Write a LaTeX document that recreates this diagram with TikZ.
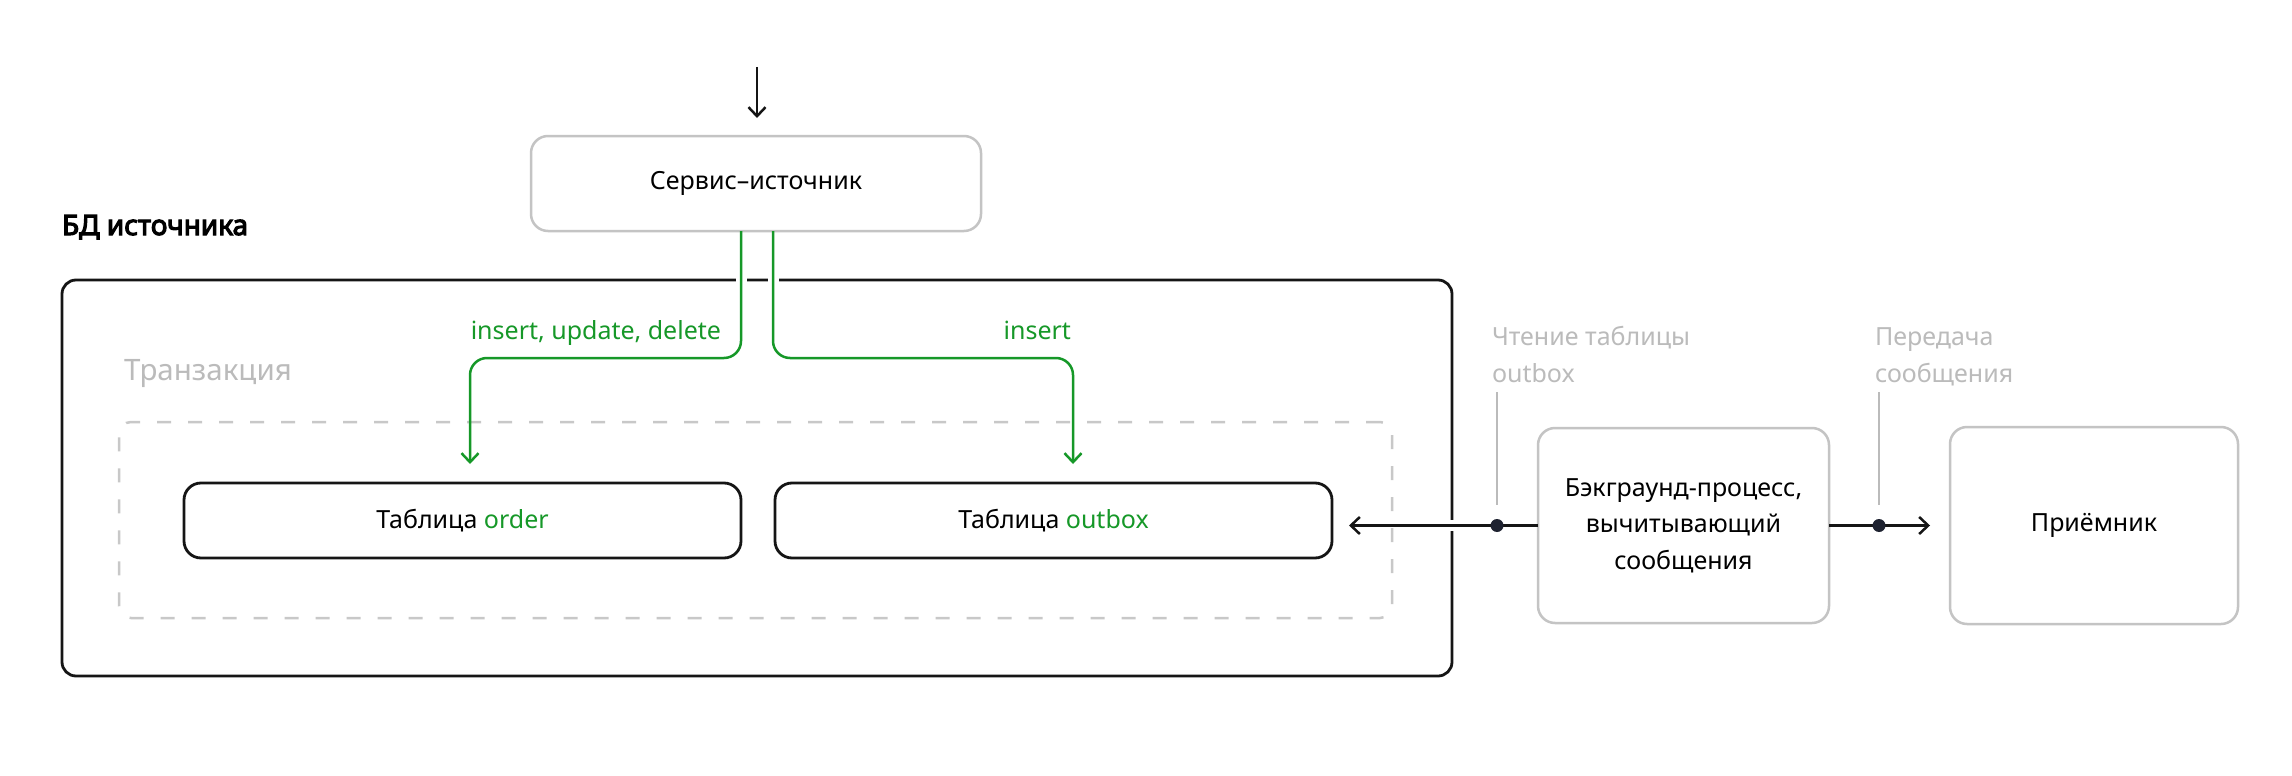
\documentclass[tikz,border=0pt]{standalone}
\usepackage{fontspec}
\setmainfont{Noto Sans}[AutoFakeBold=4]
\usetikzlibrary{arrows.meta,calc}
\definecolor{ink}{HTML}{151515}
\definecolor{boxgray}{HTML}{C4C4C4}
\definecolor{dashgray}{HTML}{C8C8C8}
\definecolor{labelgray}{HTML}{BBBBBB}
\definecolor{flowgreen}{RGB}{22,152,40}
\definecolor{dotblack}{HTML}{1E2230}
\newcommand\fsbody{\fontsize{25}{36.5}\selectfont}
\newcommand\fshead{\fontsize{28}{34}\selectfont\bfseries}
\newcommand\fstx{\fontsize{29.5}{36}\selectfont}
\tikzset{
  plain/.style={inner sep=0pt, outer sep=0pt},
  softbox/.style={plain, draw=boxgray, line width=2.5pt, rounded corners=17pt, fill=white, font=\fsbody, align=center, text=black},
  hardbox/.style={plain, draw=ink, line width=2.8pt, rounded corners=17pt, fill=white, font=\fsbody, text=black},
  frame/.style={plain, draw=ink, line width=2.8pt, rounded corners=14pt},
  txbox/.style={plain, draw=dashgray, line width=2.5pt, rounded corners=12pt, dash pattern=on 14pt off 17pt},
  flow/.style={draw=flowgreen, line width=2.5pt, rounded corners=17pt, -{Straight Barb[length=9pt,width=17pt]}},
  link/.style={draw=ink, line width=2.5pt, -{Straight Barb[length=9pt,width=17pt]}},
  dotc/.style={plain, circle, fill=dotblack, minimum size=13pt},
  lead/.style={draw=labelgray, line width=2pt},
  note/.style={plain, text=labelgray, font=\fsbody, align=left},
  flowlabel/.style={plain, text=flowgreen, font=\fsbody},
}
\begin{document}
\begin{tikzpicture}[x=1pt,y=-1pt]
\useasboundingbox[fill=white] (0,0) rectangle (2292,776);

% containers
\node[frame, minimum width=1390pt, minimum height=396pt] (db) at (757,478) {};
\node[txbox, minimum width=1273pt, minimum height=196pt] (tx) at (755.5,520) {};
\node[plain, anchor=base west, font=\fshead] (dbtitle) at (62,235) {БД источника};
\node[plain, anchor=base west, font=\fstx, text=labelgray] (txtitle) at (124,380) {Транзакция};

% gaps in the frame where connectors cross it
\fill[white] (735.5,273) rectangle (746.5,287);
\fill[white] (767.5,273) rectangle (778.5,287);
\fill[white] (1445,520) rectangle (1459,531);

% nodes
\node[softbox, minimum width=450pt, minimum height=95pt] (svc) at (756,183.5) {Сервис–источник};
\node[hardbox, minimum width=557pt, minimum height=75pt] (order) at (462.5,520.5) {Таблица \textcolor{flowgreen}{order}};
\node[hardbox, minimum width=557pt, minimum height=75pt] (outbox) at (1053.5,520.5) {Таблица \textcolor{flowgreen}{outbox}};
\node[softbox, minimum width=291pt, minimum height=195pt] (bg) at (1683.5,525.5) {Бэкграунд-процесс,\\вычитывающий\\сообщения};
\node[softbox, minimum width=288pt, minimum height=197pt] (rcv) at (2094,525.5) {Приёмник};

% helper coordinates
\coordinate (in) at (757,67);
\coordinate (turn) at (0,358);
\coordinate (p1) at (1497,0);
\coordinate (p2) at (1879,0);
\coordinate (lt1) at (1497,392);
\coordinate (lt2) at (1879,392);

% incoming arrow
\draw[link, shorten >=18pt] (in) -- (in |- svc.north);

% green flows
\draw[flow, shorten >=19pt] ([xshift=-15pt]svc.south) -- ([xshift=-15pt]svc.south |- turn) -| ([xshift=7.5pt]order.north);
\draw[flow, shorten >=19pt] ([xshift=17pt]svc.south) -- ([xshift=17pt]svc.south |- turn) -| ([xshift=19.5pt]outbox.north);
\node[flowlabel, anchor=base east] (lab1) at (721,339) {insert, update, delete};
\node[flowlabel, anchor=base east] (lab2) at (1071,339) {insert};

% reading and sending
\draw[link, shorten >=17pt] (bg.west) -- (bg.west -| outbox.east);
\draw[link, shorten >=20pt] (bg.east) -- (bg.east -| rcv.west);
\node[dotc] (d1) at (bg.west -| p1) {};
\node[dotc] (d2) at (bg.east -| p2) {};
\draw[lead, shorten >=14pt] (lt1) -- (d1.center |- d1.north);
\draw[lead, shorten >=14pt] (lt2) -- (d2.center |- d2.north);
\node[note, anchor=base west] (n1) at (1492,382) {Чтение таблицы\\outbox};
\node[note, anchor=base west] (n2) at (1875,382) {Передача\\сообщения};
\end{tikzpicture}
\end{document}
